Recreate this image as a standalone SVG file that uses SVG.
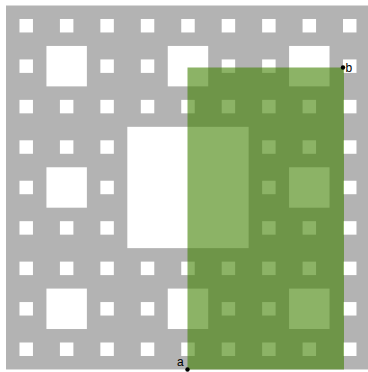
<svg xmlns="http://www.w3.org/2000/svg" xmlns:xlink="http://www.w3.org/1999/xlink" width="368" height="372" viewBox="0 0 368 372">
  <style>
    .hole { fill: #ffffff; }
    .lbl { font-family: "Liberation Sans", Arial, sans-serif; font-size: 12px; fill: #000000; }
  </style>
  <defs>
    <g id="h9">
      <rect class="hole" x="1" y="1" width="1" height="1"/>
      <rect class="hole" x="4" y="1" width="1" height="1"/>
      <rect class="hole" x="7" y="1" width="1" height="1"/>
      <rect class="hole" x="1" y="4" width="1" height="1"/>
      <rect class="hole" x="7" y="4" width="1" height="1"/>
      <rect class="hole" x="1" y="7" width="1" height="1"/>
      <rect class="hole" x="4" y="7" width="1" height="1"/>
      <rect class="hole" x="7" y="7" width="1" height="1"/>
      <rect class="hole" x="3" y="3" width="3" height="3"/>
    </g>
  </defs>
  <rect width="368" height="372" fill="#ffffff"/>
  <g id="carpet" transform="translate(6,5.5) scale(13.48)">
    <rect x="0" y="0" width="27" height="27" fill="#b3b3b3"/>
    <use xlink:href="#h9" x="0" y="0"/>
    <use xlink:href="#h9" x="9" y="0"/>
    <use xlink:href="#h9" x="18" y="0"/>
    <use xlink:href="#h9" x="0" y="9"/>
    <use xlink:href="#h9" x="18" y="9"/>
    <use xlink:href="#h9" x="0" y="18"/>
    <use xlink:href="#h9" x="9" y="18"/>
    <use xlink:href="#h9" x="18" y="18"/>
    <rect class="hole" x="9" y="9" width="9" height="9"/>
  </g>
  <rect id="region" x="187.5" y="67.5" width="156.5" height="302" fill="#408000" fill-opacity="0.6"/>
  <g id="point-a">
    <circle cx="187.5" cy="369.5" r="2.2" fill="#000000"/>
    <text class="lbl" x="177" y="366">a</text>
  </g>
  <g id="point-b">
    <circle cx="343" cy="67.5" r="2.2" fill="#000000"/>
    <text class="lbl" x="345.5" y="71.5">b</text>
  </g>
</svg>
